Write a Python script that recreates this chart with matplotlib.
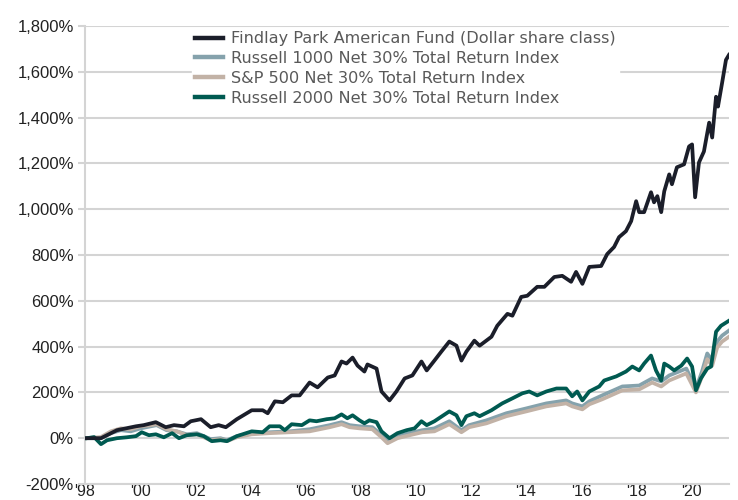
import matplotlib
matplotlib.use("Agg")
import matplotlib.pyplot as plt

# ---------------------------------------------------------------
#  data (cumulative return, %)
# ---------------------------------------------------------------

labels = [
    "Findlay Park American Fund (Dollar share class)",
    "Russell 1000 Net 30% Total Return Index",
    "S&P 500 Net 30% Total Return Index",
    "Russell 2000 Net 30% Total Return Index",
]

fund_x = [1998.07, 1998.58, 1999.16, 1999.85, 2000.13, 2000.57, 2000.93, 2001.23,
          2001.59, 2001.84, 2002.21, 2002.56, 2002.85, 2003.11, 2003.51, 2004.05,
          2004.45, 2004.63, 2004.89, 2005.18, 2005.50, 2005.79, 2006.15, 2006.44,
          2006.81, 2007.06, 2007.31, 2007.49, 2007.71, 2007.89, 2008.14, 2008.25,
          2008.58, 2008.76, 2009.05, 2009.30, 2009.60, 2009.88, 2010.21, 2010.40,
          2010.68, 2010.93, 2011.22, 2011.48, 2011.66, 2011.84, 2012.13, 2012.32,
          2012.75, 2012.96, 2013.33, 2013.51, 2013.83, 2014.05, 2014.41, 2014.67,
          2015.03, 2015.32, 2015.64, 2015.82, 2016.05, 2016.30, 2016.73, 2016.95,
          2017.20, 2017.38, 2017.63, 2017.82, 2018.00, 2018.11, 2018.29, 2018.54,
          2018.65, 2018.77, 2018.91, 2019.02, 2019.20, 2019.30, 2019.48, 2019.74,
          2019.92, 2020.03, 2020.14, 2020.28, 2020.46, 2020.65, 2020.76, 2020.90,
          2020.97, 2021.12, 2021.26, 2021.37]
fund = [0, 0, 35, 52, 57, 70, 48, 57,
        52, 74, 83, 48, 57, 48, 83, 122,
        122, 109, 161, 157, 187, 187, 243, 222,
        265, 274, 335, 326, 352, 317, 291, 322,
        304, 204, 165, 204, 261, 274, 335, 296,
        339, 378, 422, 404, 339, 378, 426, 404,
        443, 491, 543, 535, 617, 622, 661, 661,
        704, 709, 683, 726, 674, 748, 752, 804,
        835, 878, 904, 948, 1035, 987, 987, 1074,
        1030, 1057, 987, 1078, 1152, 1109, 1183, 1196,
        1274, 1283, 1052, 1204, 1252, 1378, 1313, 1491,
        1448, 1552, 1652, 1674]

r2000_x = [1998.07, 1998.33, 1998.58, 1998.80, 1999.16, 1999.52, 1999.85, 2000.06,
           2000.32, 2000.57, 2000.86, 2001.16, 2001.41, 2001.69, 2002.06, 2002.31,
           2002.60, 2002.92, 2003.15, 2003.51, 2004.05, 2004.45, 2004.70, 2005.07,
           2005.25, 2005.50, 2005.87, 2006.15, 2006.40, 2006.77, 2007.06, 2007.31,
           2007.52, 2007.71, 2007.96, 2008.14, 2008.32, 2008.58, 2008.76, 2009.05,
           2009.34, 2009.67, 2009.96, 2010.21, 2010.40, 2010.68, 2011.22, 2011.48,
           2011.66, 2011.84, 2012.13, 2012.32, 2012.75, 2013.14, 2013.51, 2013.87,
           2014.12, 2014.41, 2014.74, 2015.11, 2015.46, 2015.68, 2015.86, 2016.05,
           2016.30, 2016.66, 2016.84, 2017.28, 2017.63, 2017.86, 2018.11, 2018.29,
           2018.54, 2018.72, 2018.91, 2019.02, 2019.20, 2019.38, 2019.64, 2019.85,
           2020.03, 2020.17, 2020.35, 2020.58, 2020.72, 2020.90, 2021.08, 2021.37]
r2000 = [0, 5, -26, -9, 0, 4, 9, 26,
         13, 17, 4, 22, 0, 13, 17, 9,
         -13, -9, -13, 9, 30, 26, 52, 52,
         35, 61, 57, 78, 74, 83, 87, 104,
         87, 100, 78, 65, 78, 70, 30, 0,
         22, 35, 43, 74, 57, 74, 117, 100,
         57, 96, 109, 96, 122, 152, 174, 196,
         204, 187, 204, 217, 217, 183, 204, 165,
         204, 226, 252, 270, 291, 313, 296, 326,
         361, 296, 252, 326, 313, 296, 317, 348,
         313, 209, 261, 304, 313, 465, 491, 513]

large_x = [1998.07, 1998.58, 1998.94, 1999.30, 1999.66, 2000.02, 2000.39, 2000.60,
           2000.96, 2001.33, 2001.69, 2002.06, 2002.56, 2002.92, 2003.15, 2003.51,
           2004.05, 2004.70, 2005.43, 2006.15, 2006.88, 2007.31, 2007.60, 2007.96,
           2008.43, 2008.76, 2008.98, 2009.34, 2009.78, 2010.24, 2010.68, 2011.22,
           2011.66, 2011.94, 2012.57, 2013.29, 2014.01, 2014.74, 2015.46, 2015.68,
           2016.05, 2016.30, 2016.77, 2017.50, 2018.11, 2018.58, 2018.91, 2019.20,
           2019.82, 2020.17, 2020.39, 2020.58, 2020.76, 2020.94, 2021.12, 2021.37]
r1000 = [0, 0, 22, 35, 30, 43, 52, 57,
         35, 30, 17, 22, -4, 0, -9, 9,
         22, 26, 30, 39, 57, 70, 57, 52,
         48, 13, -13, 9, 22, 35, 43, 74,
         35, 57, 78, 109, 130, 152, 165, 152,
         139, 161, 187, 226, 230, 261, 248, 274,
         304, 217, 291, 370, 339, 422, 448, 470]
sp500 = [0, 5, 30, 43, 39, 52, 57, 61,
         39, 30, 13, 17, -9, -4, -13, 4,
         17, 22, 26, 30, 48, 61, 48, 43,
         39, 4, -22, 0, 13, 26, 30, 61,
         26, 48, 65, 96, 117, 139, 152, 139,
         126, 148, 170, 209, 213, 243, 226, 252,
         283, 200, 270, 345, 317, 396, 422, 443]

x_ticks = [1998, 2000, 2002, 2004, 2006, 2008, 2010, 2012, 2014, 2016, 2018, 2020]
x_labels = ["'98", "'00", "'02", "'04", "'06", "'08", "'10", "'12", "'14", "'16", "'18", "'20"]
y_ticks = [-200, 0, 200, 400, 600, 800, 1000, 1200, 1400, 1600, 1800]
y_labels = ["-200%", "0%", "200%", "400%", "600%", "800%", "1,000%",
            "1,200%", "1,400%", "1,600%", "1,800%"]

# ---------------------------------------------------------------
#  plot
# ---------------------------------------------------------------

colors = ["#1b1e2a", "#85a2ac", "#c2b2a6", "#005a51"]
grid_c = "#d4d4d4"

fig = plt.figure(figsize=(7.38, 5.0), dpi=100)
ax = fig.add_axes([85 / 738, 1 - 484 / 500, 644 / 738, 458 / 500])

lw = 2.7
l1, = ax.plot(large_x, r1000, color=colors[1], lw=lw, zorder=3, solid_joinstyle="round")
l2, = ax.plot(large_x, sp500, color=colors[2], lw=lw, zorder=4, solid_joinstyle="round")
l3, = ax.plot(r2000_x, r2000, color=colors[3], lw=lw, zorder=5, solid_joinstyle="round")
l0, = ax.plot(fund_x, fund, color=colors[0], lw=lw, zorder=6, solid_joinstyle="round")

ax.set_xlim(1998, 2021.37)
ax.set_ylim(-200, 1800)
ax.set_xticks(x_ticks)
ax.set_xticklabels(x_labels, fontfamily="Liberation Sans", fontsize=11.5, color="#222222")
ax.set_yticks(y_ticks)
ax.set_yticklabels(y_labels, fontfamily="Liberation Sans", fontsize=12, color="#222222")
ax.tick_params(axis="y", length=5, width=1.5, color=grid_c, pad=3)
ax.tick_params(axis="x", length=0, pad=0)

ax.grid(axis="y", color=grid_c, lw=1.5, zorder=0)
ax.set_axisbelow(True)
for s in ["top", "right"]:
    ax.spines[s].set_visible(False)
for s in ["left", "bottom"]:
    ax.spines[s].set_color(grid_c)
    ax.spines[s].set_linewidth(1.5)

leg = ax.legend([l0, l1, l2, l3], labels, loc="upper left",
                bbox_to_anchor=(192 / 738, 1 - 28 / 500), bbox_transform=fig.transFigure,
                prop={"family": "DejaVu Sans", "size": 11.6},
                frameon=True, fancybox=False, framealpha=1, facecolor="white",
                edgecolor="white", borderpad=0.2, borderaxespad=0,
                handlelength=1.7, handletextpad=0.55, labelspacing=0.3)
for t in leg.get_texts():
    t.set_color("#595959")
for h in leg.legend_handles:
    h.set_linewidth(3.2)
leg.set_zorder(10)

fig.savefig("out.png", dpi=100)
